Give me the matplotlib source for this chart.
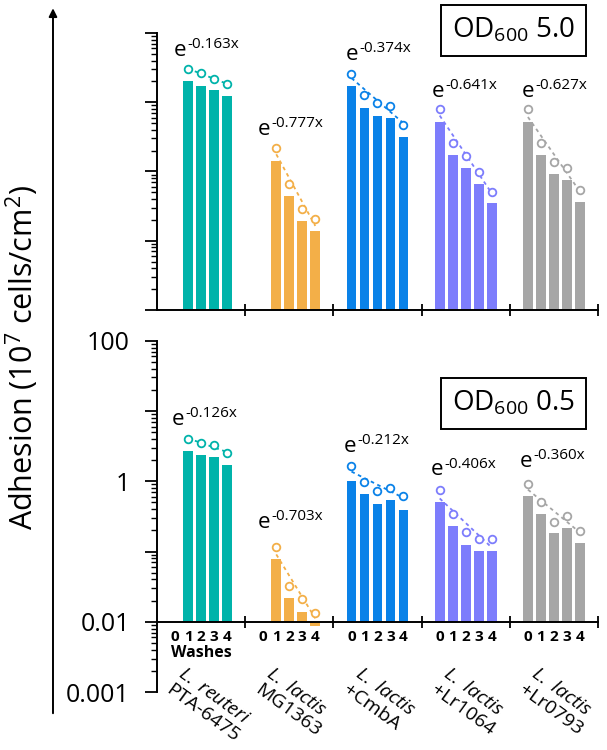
import matplotlib.pyplot as plt
import numpy as np
from matplotlib.ticker import LogLocator, NullFormatter, FixedFormatter, FixedLocator
import matplotlib.transforms as mtransforms

# Styling
plt.rcParams['font.family'] = 'Open Sans'
plt.rcParams['mathtext.fontset'] = 'custom'
plt.rcParams['mathtext.rm'] = 'Open Sans'
plt.rcParams['mathtext.it'] = 'Open Sans:italic'
plt.rcParams['axes.linewidth'] = 1.4

# Data (10^7 cells/cm^2)
species = ["L.\\ reuteri", "L.\\ lactis", "L.\\ lactis", "L.\\ lactis", "L.\\ lactis"]
strains = ["PTA-6475", "MG1363", "+CmbA", "+Lr1064", "+Lr0793"]
colors = ["#00B3AA", "#F3AF48", "#0A82E8", "#7D7DFC", "#A6A6A6"]
washes = [[1, 2, 3, 4], [1, 2, 3, 4], [0, 1, 2, 3, 4], [0, 1, 2, 3, 4], [0, 1, 2, 3, 4]]
wash_labels = ["0", "1", "2", "3", "4"]

# OD600 5.0
bars_hi = [[20.5, 17.0, 14.9, 12.3],
           [1.43, 0.448, 0.193, 0.140],
           [17.0, 8.34, 6.39, 5.98, 3.18],
           [5.24, 1.75, 1.11, 0.66, 0.347],
           [5.24, 1.75, 0.92, 0.75, 0.366]]
circ_hi = [[30.2, 26.2, 21.9, 18.3],
           [2.18, 0.66, 0.287, 0.204],
           [25.6, 12.7, 9.66, 8.83, 4.69],
           [7.9, 2.6, 1.67, 0.98, 0.51],
           [7.9, 2.6, 1.39, 1.13, 0.54]]
rate_hi = ["-0.163x", "-0.777x", "-0.374x", "-0.641x", "-0.627x"]

# OD600 0.5
bars_lo = [[2.67, 2.34, 2.21, 1.70],
           [0.0788, 0.022, 0.0139, 0.0087],
           [1.02, 0.657, 0.473, 0.54, 0.389],
           [0.50, 0.233, 0.124, 0.103, 0.103],
           [0.61, 0.344, 0.181, 0.218, 0.131]]
circ_lo = [[4.03, 3.46, 3.24, 2.50],
           [0.117, 0.0322, 0.0208, 0.0132],
           [1.64, 0.975, 0.72, 0.79, 0.62],
           [0.74, 0.344, 0.187, 0.150, 0.150],
           [0.90, 0.506, 0.265, 0.323, 0.194]]
rate_lo = ["-0.126x", "-0.703x", "-0.212x", "-0.406x", "-0.360x"]

# label anchor positions (x offset inside group, y in data units)
lab_hi = [(1.31, 46.6), (0.98, 3.37), (0.97, 40.7), (0.80, 11.9), (0.94, 11.9)]
lab_lo = [(1.15, 6.31), (0.98, 0.216), (0.82, 2.61), (0.72, 1.22), (0.79, 1.59)]

G = 6.785  # width of one group in slot units
BASE = 0.01


def xpos(g, w):
    return g * G + G / 2 + (np.asarray(w) - 2)


def draw_panel(ax, bars, circs, rates, labs, ylim):
    for g in range(5):
        xs = xpos(g, washes[g])
        v = np.array(bars[g])
        ax.bar(xs, v - BASE, bottom=BASE, width=0.75, color=colors[g], zorder=2)
        c = np.array(circs[g])
        # exponential fit through the circles (straight line on log axis)
        p = np.polyfit(washes[g], np.log10(c), 1)
        wl = np.array([washes[g][0], washes[g][-1]])
        ax.plot(xpos(g, wl), 10 ** (p[0] * wl + p[1]), ls=(0, (2, 2)), lw=1.3,
                color=colors[g], zorder=3)
        ax.plot(xs, c, 'o', ms=5.5, mfc='white', mec=colors[g], mew=1.3, zorder=4)
        lx, ly = labs[g]
        ax.text(g * G + lx, ly, "e", fontsize=16, ha='left', va='baseline')
        ax.annotate(rates[g], xy=(g * G + lx, ly), xytext=(9.5, 5.5),
                    textcoords='offset points', fontsize=11, ha='left', va='baseline')
    ax.set_yscale('log')
    ax.set_ylim(*ylim)
    ax.set_xlim(0, 5 * G)
    for s in ['top', 'right']:
        ax.spines[s].set_visible(False)
    ax.yaxis.set_major_locator(LogLocator(base=10, numticks=20))
    ax.yaxis.set_minor_locator(LogLocator(base=10, subs=np.arange(2, 10), numticks=20))
    ax.yaxis.set_minor_formatter(NullFormatter())
    ax.tick_params(axis='y', which='major', direction='out', length=8.5, width=1.3)
    ax.tick_params(axis='y', which='minor', direction='out', length=4.5, width=1.0)
    ax.set_xticks([G * k for k in range(1, 6)])
    ax.set_xticklabels([])
    ax.tick_params(axis='x', which='major', direction='inout', length=9, width=1.3)


fig = plt.figure(figsize=(6.07, 7.5), dpi=100)
ax_top = fig.add_axes([0.2586, 0.5867, 0.7266, 0.3693])
ax_bot = fig.add_axes([0.2586, 0.0773, 0.7266, 0.4684])

draw_panel(ax_top, bars_hi, circ_hi, rate_hi, lab_hi, (0.01, 100))
ax_top.yaxis.set_major_formatter(NullFormatter())

draw_panel(ax_bot, bars_lo, circ_lo, rate_lo, lab_lo, (0.001, 100))
ax_bot.spines['bottom'].set_position(('data', BASE))
ax_bot.yaxis.set_major_locator(FixedLocator([0.001, 0.01, 0.1, 1, 10, 100]))
ax_bot.yaxis.set_major_formatter(FixedFormatter(["0.001", "0.01", "", "1", "", "100"]))
ax_bot.tick_params(axis='y', which='major', labelsize=18, pad=11)

slots = np.concatenate([xpos(g, [0, 1, 2, 3, 4]) for g in range(5)])
ax_bot.set_xticks(slots, wash_labels * 5, minor=True, fontweight='bold', fontsize=11)
ax_bot.tick_params(axis='x', which='minor', length=0, pad=6)

trans = mtransforms.blended_transform_factory(ax_bot.transData, ax_bot.transAxes)
ax_bot.text(xpos(0, 2), 0.111, "Washes", transform=trans, fontsize=11.5,
            fontweight='bold', ha='center', va='center')
for g in range(5):
    ax_bot.text(g * G + 2.2, 0.080, "$\\it{" + species[g] + "}$\n" + strains[g],
                transform=trans, rotation=-36, rotation_mode='anchor',
                ha='left', va='top', fontsize=14, linespacing=1.15)

# OD boxes
box = dict(boxstyle='square,pad=0.4', fc='white', ec='black', lw=1.4)
fig.text(0.846, 0.9593, "OD$_{600}$ 5.0", fontsize=20, ha='center', va='center', bbox=box)
fig.text(0.846, 0.462, "OD$_{600}$ 0.5", fontsize=20, ha='center', va='center', bbox=box)

# shared y label with arrow
fig.text(0.036, 0.523, "Adhesion (10$^{7}$ cells/cm$^{2}$)", rotation=90,
         fontsize=22, ha='center', va='center')
ax_top.annotate('', xy=(0.0873, 0.989), xytext=(0.0873, 0.049),
                xycoords='figure fraction', textcoords='figure fraction',
                arrowprops=dict(arrowstyle='-|>', lw=1.4, color='black',
                                mutation_scale=12, shrinkA=0, shrinkB=0))

fig.savefig("out.png", dpi=100)
